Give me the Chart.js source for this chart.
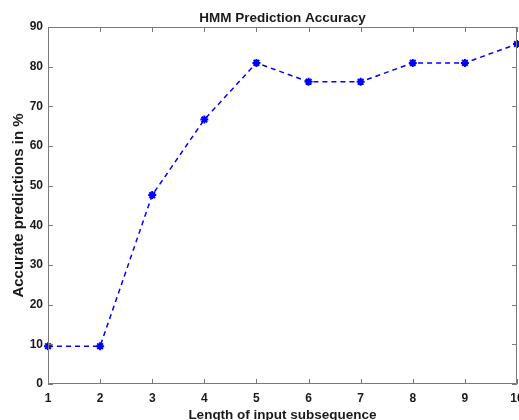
<!DOCTYPE html>
<html>
<head>
<meta charset="utf-8">
<script src="https://cdn.jsdelivr.net/npm/chart.js@4/dist/chart.umd.min.js"></script>
<style>
  html, body { margin: 0; padding: 0; background: #fff; }
  canvas { display: block; }
</style>
</head>
<body>
<canvas id="hmmChart" width="519" height="420"></canvas>
<script>
// data
const lengths = ['1', '2', '3', '4', '5', '6', '7', '8', '9', '10'];
const accuracy = [9.52, 9.52, 47.62, 66.67, 80.95, 76.19, 76.19, 80.95, 80.95, 85.71];
const yTicks = [0, 10, 20, 30, 40, 50, 60, 70, 80, 90];

const axisColor = '#7a7a7a';
const textColor = '#1a1a1a';
const fontFamily = '"Liberation Sans", Arial, sans-serif';

// matlab style box with inward ticks
const boxPlugin = {
    id: 'matlabBox',
    afterDraw(chart) {
        const { ctx, chartArea: a, scales } = chart;
        const tl = 5;
        ctx.save();
        ctx.strokeStyle = axisColor;
        ctx.lineWidth = 1;
        ctx.beginPath();
        ctx.rect(a.left + 0.5, a.top + 0.5, a.right - a.left - 1, a.bottom - a.top - 1);
        scales.x.ticks.forEach((t, i) => {
            const px = Math.round(scales.x.getPixelForTick(i)) + 0.5;
            ctx.moveTo(px, a.bottom); ctx.lineTo(px, a.bottom - tl);
            ctx.moveTo(px, a.top); ctx.lineTo(px, a.top + tl);
        });
        scales.y.ticks.forEach(t => {
            const py = Math.round(scales.y.getPixelForValue(t.value)) + 0.5;
            ctx.moveTo(a.left, py); ctx.lineTo(a.left + tl, py);
            ctx.moveTo(a.right, py); ctx.lineTo(a.right - tl, py);
        });
        ctx.stroke();
        ctx.restore();
    }
};

new Chart(document.getElementById('hmmChart'), {
    type: 'line',
    data: {
        labels: lengths,
        datasets: [{
            data: accuracy,
            borderColor: '#0000ff',
            borderWidth: 1.5,
            borderDash: [5, 4],
            fill: false,
            tension: 0,
            pointStyle: 'star',
            pointRadius: 4,
            pointBorderWidth: 2,
            pointBorderColor: '#0000ff',
            pointBackgroundColor: '#0000ff'
        }]
    },
    options: {
        responsive: false,
        animation: false,
        layout: { autoPadding: false, padding: { left: 0, right: 2, top: 0, bottom: 0 } },
        plugins: {
            legend: { display: false },
            tooltip: { enabled: false },
            title: {
                display: true,
                text: 'HMM Prediction Accuracy',
                fullSize: false,
                color: textColor,
                font: { family: fontFamily, size: 13.5, weight: 'bold', lineHeight: 1.2 },
                padding: { top: 10, bottom: 0.8 }
            }
        },
        scales: {
            x: {
                offset: false,
                grid: { display: false, drawTicks: false },
                border: { display: false },
                ticks: {
                    color: textColor,
                    padding: 7,
                    maxRotation: 0,
                    autoSkip: false,
                    font: { family: fontFamily, size: 12, weight: 'bold' }
                },
                title: {
                    display: true,
                    text: 'Length of input subsequence',
                    color: textColor,
                    font: { family: fontFamily, size: 13.5, weight: 'bold', lineHeight: 1.0 },
                    padding: { top: 0, bottom: -2 }
                },
                afterFit(s) {
                    s.height = 36;
                    s.paddingLeft = 0;
                    s.paddingRight = 0;
                }
            },
            y: {
                min: 0,
                max: 90,
                afterBuildTicks(s) { s.ticks = yTicks.map(v => ({ value: v })); },
                grid: { display: false, drawTicks: false },
                border: { display: false },
                ticks: {
                    color: textColor,
                    padding: 5,
                    font: { family: fontFamily, size: 12, weight: 'bold' }
                },
                title: {
                    display: true,
                    text: 'Accurate predictions in %',
                    color: textColor,
                    font: { family: fontFamily, size: 15, weight: 'bold', lineHeight: 1.2 },
                    padding: { top: 9.5, bottom: 0 }
                },
                afterFit(s) {
                    s.width = 48;
                    s.paddingTop = 0;
                    s.paddingBottom = 0;
                }
            }
        }
    },
    plugins: [boxPlugin]
});
</script>
</body>
</html>
